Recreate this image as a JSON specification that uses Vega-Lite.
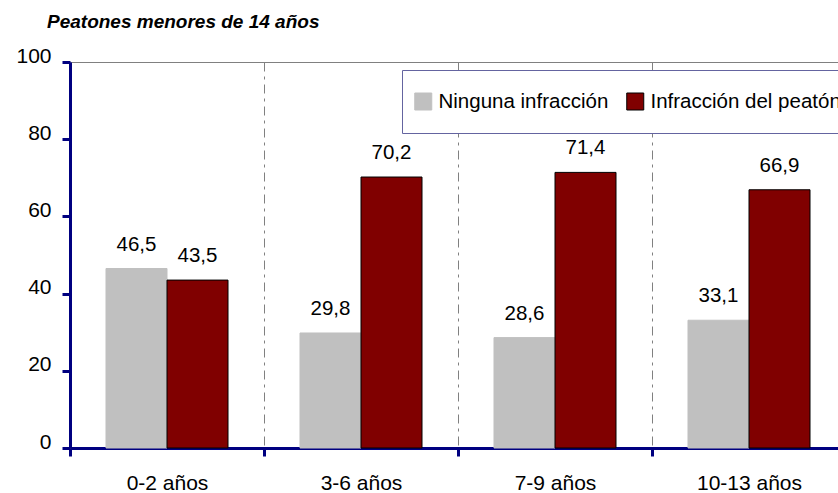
{
  "$schema": "https://vega.github.io/schema/vega-lite/v6.json",
  "width": 776,
  "height": 386,
  "autosize": {"type": "none"},
  "padding": {"left": 70, "top": 62, "right": -8, "bottom": 45},
  "background": "white",
  "title": {
    "text": "Peatones menores de 14 años",
    "anchor": "start",
    "frame": "group",
    "dx": -23,
    "baseline": "alphabetic",
    "offset": -2,
    "font": "Liberation Sans",
    "fontSize": 19,
    "fontStyle": "italic",
    "fontWeight": "bold",
    "color": "black"
  },
  "data": {
    "values": [
      {"edad": "0-2 años", "serie": "Ninguna infracción", "pct": 46.5},
      {"edad": "0-2 años", "serie": "Infracción del peatón", "pct": 43.5},
      {"edad": "3-6 años", "serie": "Ninguna infracción", "pct": 29.8},
      {"edad": "3-6 años", "serie": "Infracción del peatón", "pct": 70.2},
      {"edad": "7-9 años", "serie": "Ninguna infracción", "pct": 28.6},
      {"edad": "7-9 años", "serie": "Infracción del peatón", "pct": 71.4},
      {"edad": "10-13 años", "serie": "Ninguna infracción", "pct": 33.1},
      {"edad": "10-13 años", "serie": "Infracción del peatón", "pct": 66.9}
    ]
  },
  "encoding": {
    "x": {
      "field": "edad",
      "type": "nominal",
      "sort": ["0-2 años", "3-6 años", "7-9 años", "10-13 años"],
      "scale": {"paddingInner": 0, "paddingOuter": 0},
      "axis": {
        "title": null,
        "labelAngle": 0,
        "tickBand": "extent",
        "grid": true,
        "gridDash": [9, 5, 3, 5],
        "gridColor": "#808080",
        "gridWidth": 1,
        "domainColor": "#000080",
        "domainWidth": 3,
        "tickColor": "#000080",
        "tickWidth": 3,
        "tickSize": 8,
        "labelFont": "Liberation Sans",
        "labelFontSize": 21,
        "labelColor": "black",
        "labelBaseline": "alphabetic",
        "labelPadding": 33
      }
    },
    "xOffset": {
      "field": "serie",
      "type": "nominal",
      "sort": ["Ninguna infracción", "Infracción del peatón"],
      "scale": {"paddingInner": 0, "paddingOuter": 0.59}
    },
    "y": {
      "field": "pct",
      "type": "quantitative",
      "scale": {"domain": [0, 100], "nice": false},
      "axis": {
        "title": null,
        "grid": false,
        "values": [0, 20, 40, 60, 80, 100],
        "domainColor": "#000080",
        "domainWidth": 3,
        "tickColor": "#000080",
        "tickWidth": 3,
        "tickSize": 8,
        "labelFont": "Liberation Sans",
        "labelFontSize": 21,
        "labelColor": "black",
        "labelBaseline": "alphabetic",
        "labelOffset": 0,
        "labelPadding": 11
      }
    }
  },
  "layer": [
    {
      "mark": {"type": "bar", "strokeWidth": 1},
      "encoding": {
        "fill": {
          "field": "serie",
          "type": "nominal",
          "sort": ["Ninguna infracción", "Infracción del peatón"],
          "scale": {"domain": ["Ninguna infracción", "Infracción del peatón"], "range": ["#c0c0c0", "#800000"]},
          "legend": {
            "orient": "none",
            "legendX": 332,
            "legendY": 8,
            "direction": "horizontal",
            "title": null,
            "symbolType": "square",
            "symbolSize": 289,
            "symbolStrokeWidth": 1,
            "labelFont": "Liberation Sans",
            "labelFontSize": 20.5,
            "labelColor": "black",
            "labelOffset": 5,
            "labelLimit": 400,
            "padding": 11,
            "clipHeight": 41,
            "columnPadding": 16,
            "strokeColor": "#6464a0",
            "fillColor": "white"
          }
        },
        "stroke": {
          "field": "serie",
          "type": "nominal",
          "sort": ["Ninguna infracción", "Infracción del peatón"],
          "scale": {"domain": ["Ninguna infracción", "Infracción del peatón"], "range": ["#c0c0c0", "#000000"]}
        }
      }
    },
    {
      "mark": {"type": "text", "baseline": "alphabetic", "dy": -18, "font": "Liberation Sans", "fontSize": 20.5, "color": "black"},
      "encoding": {
        "text": {"field": "pct", "type": "quantitative", "format": ".1f"}
      }
    }
  ],
  "config": {
    "view": {"stroke": "#808080", "strokeWidth": 1},
    "locale": {"number": {"decimal": ",", "thousands": ".", "grouping": [3], "currency": ["", " €"]}}
  }
}
